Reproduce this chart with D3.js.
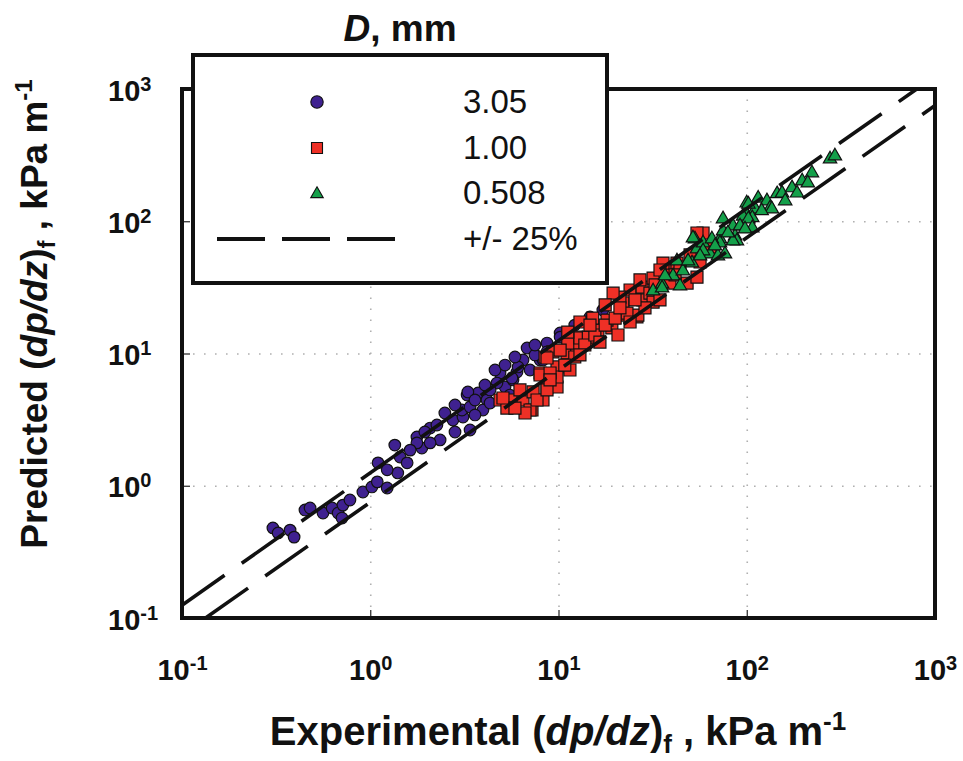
<!DOCTYPE html>
<html>
<head>
<meta charset="utf-8">
<script src="https://cdn.jsdelivr.net/npm/d3@7"></script>
<style>
  body { margin: 0; background: #fff; }
  svg { display: block; }
  text { font-family: Arial, "Liberation Sans", sans-serif; fill: #111; }
</style>
</head>
<body>
<svg id="chart" width="963" height="761"></svg>
<script>
// Tube diameters (mm) and their marker colours
const diameters = ["3.05", "1.00", "0.508"];
const seriesColors = ["#3f2190", "#ee3026", "#14a04a"];

// [experimental, predicted] frictional pressure gradient, kPa/m
const d305 = [
  [0.304, 0.480], [0.324, 0.440], [0.375, 0.462], [0.394, 0.409], [0.450, 0.656],
  [0.479, 0.679], [0.561, 0.622], [0.627, 0.679], [0.675, 0.622], [0.716, 0.714],
  [0.780, 0.780], [0.708, 0.570], [0.914, 0.897], [1.02, 0.979], [1.09, 1.07],
  [1.23, 0.962], [1.10, 1.49], [1.35, 2.03], [1.44, 1.65], [1.57, 1.49],
  [1.40, 1.25], [1.77, 2.34], [1.88, 1.93], [2.08, 2.73], [2.35, 2.22],
  [2.49, 3.55], [2.75, 3.14], [3.11, 3.31], [3.27, 4.85], [3.74, 5.03],
  [3.39, 2.64], [4.17, 4.45], [4.89, 7.12], [5.20, 5.58], [6.02, 7.25],
  [6.81, 11.0], [7.06, 7.50], [6.48, 8.93], [5.73, 6.31], [3.97, 3.74],
  [3.07, 3.74], [4.71, 5.98], [5.66, 6.53], [3.30, 5.12], [4.33, 4.22],
  [3.39, 3.94], [1.77, 2.11], [2.08, 2.11], [6.10, 7.91], [7.98, 8.93],
  [10.2, 14.3], [8.69, 12.0], [8.27, 8.93], [11.1, 14.3], [17.2, 21.3],
  [14.7, 18.9], [10.2, 13.3], [4.33, 5.30], [7.50, 9.75], [12.2, 16.4],
  [2.82, 4.08], [3.60, 4.45], [4.07, 5.78], [4.60, 7.50], [5.20, 8.18],
  [5.87, 9.41], [5.52, 4.85], [2.26, 2.88], [1.95, 2.55], [1.63, 1.86],
  [1.23, 1.32], [7.50, 11.6], [8.69, 10.3], [3.60, 3.43], [2.82, 2.55]
];
const d100 = [
  [4.89, 4.45], [5.73, 4.45], [6.48, 4.45], [5.32, 3.87], [7.23, 3.74],
  [8.27, 4.45], [7.33, 5.12], [8.69, 5.58], [9.82, 5.58], [7.98, 7.12],
  [9.82, 7.91], [11.5, 7.50], [9.35, 10.3], [11.1, 10.1], [12.5, 11.0],
  [12.5, 13.3], [11.2, 12.0], [7.06, 3.74], [7.69, 4.45], [8.48, 9.41],
  [7.98, 6.88], [9.82, 6.64], [8.69, 9.25], [10.2, 10.6], [13.0, 13.1],
  [14.7, 12.6], [16.2, 15.1], [15.2, 18.5], [19.2, 15.6], [21.7, 19.5],
  [26.1, 18.9], [22.0, 24.1], [24.0, 30.2], [27.8, 31.8], [28.1, 25.4],
  [31.8, 37.2], [37.7, 45.1], [39.1, 34.1], [42.6, 48.3], [13.0, 17.3],
  [11.2, 14.5], [27.1, 36.0], [30.6, 28.6], [35.9, 48.3], [48.2, 34.1],
  [58.6, 81.5], [63.8, 63.8], [21.2, 26.7], [26.4, 19.5], [23.1, 20.2],
  [31.8, 24.5], [44.2, 45.1], [54.4, 37.8], [54.4, 81.5], [9.02, 7.12],
  [14.4, 13.3], [18.1, 17.9], [19.5, 28.6], [5.07, 4.61], [8.69, 5.30],
  [34.6, 42.8], [13.8, 11.6], [15.6, 13.8], [17.7, 16.4], [20.0, 18.5],
  [16.6, 12.2], [20.7, 13.8], [24.0, 17.3], [28.8, 22.1], [34.6, 25.4],
  [32.6, 33.0], [41.6, 39.3], [17.7, 23.3], [14.7, 16.4], [12.2, 9.41],
  [10.8, 8.18], [13.0, 9.75], [9.02, 6.31], [6.24, 5.30], [6.64, 3.55],
  [5.87, 3.87], [50.0, 55.6], [56.5, 49.2], [25.5, 25.4], [21.2, 22.1]
];
const d0508 = [
  [31.8, 30.2], [35.5, 34.1], [40.6, 39.3], [45.8, 42.8], [42.6, 50.9],
  [51.2, 49.2], [54.4, 62.8], [53.1, 74.7], [58.6, 69.7], [63.8, 57.5],
  [70.3, 55.6], [72.1, 74.7], [74.8, 85.9], [84.5, 93.7], [86.7, 78.7],
  [100, 115], [111, 126], [115, 152], [128, 145], [133, 128],
  [145, 164], [100, 140], [88.7, 72.1], [74.8, 106], [95.5, 111],
  [107, 108], [102, 137], [154, 166], [174, 182], [197, 205],
  [222, 236], [277, 301], [294, 317], [136, 126], [48.8, 50.9],
  [51.8, 76.0], [58.6, 60.7], [72.1, 69.7], [76.6, 57.5], [84.5, 72.1],
  [102, 106], [107, 90.6], [35.5, 31.8], [36.8, 39.3], [56.5, 55.6],
  [65.3, 74.7], [79.4, 82.9], [92.1, 93.7], [120, 122], [160, 145],
  [185, 166], [211, 198], [67.8, 66.1], [44.2, 33.0], [97.9, 88.9]
];

// +/- 25 % deviation band
const bandRatios = [1.25, 0.75];

// Axis ticks (decades) and their exponent labels
const tickValues = [0.1, 1, 10, 100, 1000];
const tickExponents = ["-1", "0", "1", "2", "3"];
const gridValues = [1, 10, 100];

const svg = d3.select("#chart");
const plot = { left: 182, right: 935, top: 89, bottom: 618 };

const x = d3.scaleLog().domain([0.1, 1000]).range([plot.left, plot.right]);
const y = d3.scaleLog().domain([0.1, 1000]).range([plot.bottom, plot.top]);

// Dotted grid at the inner decades
function styleGrid(g) {
  g.select(".domain").remove();
  g.selectAll("line")
    .attr("stroke", "#b0b0b0")
    .attr("stroke-width", 1.6)
    .attr("stroke-dasharray", "1.6,9.4");
}
svg.append("g")
  .attr("transform", `translate(0,${plot.bottom})`)
  .call(d3.axisBottom(x).tickValues(gridValues).tickSize(-(plot.bottom - plot.top)).tickFormat(""))
  .call(styleGrid);
svg.append("g")
  .attr("transform", `translate(${plot.left},0)`)
  .call(d3.axisLeft(y).tickValues(gridValues).tickSize(-(plot.right - plot.left)).tickFormat(""))
  .call(styleGrid);

// Data markers
const series = [d305, d100, d0508];
const shapes = [d3.symbolCircle, d3.symbolSquare, d3.symbolTriangle];
const shapeArea = [Math.PI * 5.8 * 5.8, 12 * 12, 78];

series.forEach((data, i) => {
  const sym = d3.symbol().type(shapes[i]).size(shapeArea[i]);
  svg.append("g")
    .selectAll("path")
    .data(data)
    .join("path")
    .attr("d", sym)
    .attr("transform", d => `translate(${x(d[0])},${y(d[1]) + (i === 2 ? 1 : 0)})`)
    .attr("fill", seriesColors[i])
    .attr("stroke", "#111")
    .attr("stroke-width", 1.2);
});

// +/- 25 % lines, clipped to the axes box
bandRatios.forEach(r => {
  const x0 = Math.max(0.1, 0.1 / r);
  const x1 = Math.min(1000, 1000 / r);
  svg.append("line")
    .attr("x1", x(x0)).attr("y1", y(x0 * r))
    .attr("x2", x(x1)).attr("y2", y(x1 * r))
    .attr("stroke", "#111")
    .attr("stroke-width", 3.6)
    .attr("stroke-dasharray", "52,21");
});

// Inward decade ticks with 10^n labels
const labelFont = 29, supFont = 20;
function decadeLabel(sel) {
  sel.each(function (d, i) {
    const t = d3.select(this);
    t.text(null)
      .attr("font-size", labelFont)
      .attr("font-weight", "bold")
      .attr("fill", "#111");
    t.append("tspan").text("10");
    t.append("tspan").attr("dy", -10).attr("font-size", supFont).text(tickExponents[i]);
  });
}

const xAxis = svg.append("g")
  .attr("transform", `translate(0,${plot.bottom})`)
  .call(d3.axisBottom(x).tickValues(tickValues).tickSize(-8).tickFormat(""));
xAxis.select(".domain").remove();
xAxis.selectAll(".tick line").attr("stroke", "#222").attr("stroke-width", 1.2);
xAxis.selectAll(".tick text")
  .attr("y", 62).attr("dy", null).attr("text-anchor", "middle")
  .call(decadeLabel);

const yAxis = svg.append("g")
  .attr("transform", `translate(${plot.left},0)`)
  .call(d3.axisLeft(y).tickValues(tickValues).tickSize(-8).tickFormat(""));
yAxis.select(".domain").remove();
yAxis.selectAll(".tick line").attr("stroke", "#222").attr("stroke-width", 1.2);
yAxis.selectAll(".tick text")
  .attr("x", 108 - plot.left).attr("y", 11).attr("dy", null).attr("text-anchor", "start")
  .call(decadeLabel);

// Axes frame
svg.append("rect")
  .attr("x", plot.left).attr("y", plot.top)
  .attr("width", plot.right - plot.left).attr("height", plot.bottom - plot.top)
  .attr("fill", "none").attr("stroke", "#111").attr("stroke-width", 4);

// Legend
const legend = { x: 193, y: 55, w: 414, h: 228 };
svg.append("rect")
  .attr("x", legend.x).attr("y", legend.y)
  .attr("width", legend.w).attr("height", legend.h)
  .attr("fill", "#fff").attr("stroke", "#111").attr("stroke-width", 4);

svg.append("text")
  .attr("x", 400).attr("y", 41).attr("text-anchor", "middle")
  .attr("font-size", 37).attr("font-weight", "bold")
  .call(t => {
    t.append("tspan").attr("font-style", "italic").text("D");
    t.append("tspan").text(", mm");
  });

const rowY = [102, 148, 193];
const legendFont = 33;
diameters.forEach((label, i) => {
  const area = [Math.PI * 6.2 * 6.2, 11 * 11, 68][i];
  svg.append("path")
    .attr("d", d3.symbol().type(shapes[i]).size(area))
    .attr("transform", `translate(317,${rowY[i] + (i === 2 ? 1 : 0)})`)
    .attr("fill", seriesColors[i])
    .attr("stroke", "#111")
    .attr("stroke-width", 1.1);
  svg.append("text")
    .attr("x", 463).attr("y", rowY[i] + 11)
    .attr("font-size", legendFont)
    .text(label);
});
svg.append("line")
  .attr("x1", 217).attr("x2", 397).attr("y1", 239).attr("y2", 239)
  .attr("stroke", "#111").attr("stroke-width", 4)
  .attr("stroke-dasharray", "48,17");
svg.append("text")
  .attr("x", 463).attr("y", 250)
  .attr("font-size", legendFont)
  .text("+/- 25%");

// Axis titles
function titleParts(t, big, small) {
  t.append("tspan").text("(");
  t.append("tspan").attr("font-style", "italic").text("dp/dz");
  t.append("tspan").text(")");
  t.append("tspan").attr("font-size", small).attr("dy", 8).text("f");
  t.append("tspan").attr("font-size", big).attr("dy", -8).text(" , kPa m");
  t.append("tspan").attr("font-size", small).attr("dy", -15).text("-1");
}

svg.append("text")
  .attr("x", 558).attr("y", 745).attr("text-anchor", "middle")
  .attr("font-size", 40).attr("font-weight", "bold")
  .call(t => {
    t.append("tspan").text("Experimental ");
    titleParts(t, 40, 26);
  });

svg.append("text")
  .attr("transform", "translate(47,314) rotate(-90)")
  .attr("text-anchor", "middle")
  .attr("font-size", 37).attr("font-weight", "bold")
  .call(t => {
    t.append("tspan").text("Predicted ");
    titleParts(t, 37, 24);
  });
</script>
</body>
</html>
